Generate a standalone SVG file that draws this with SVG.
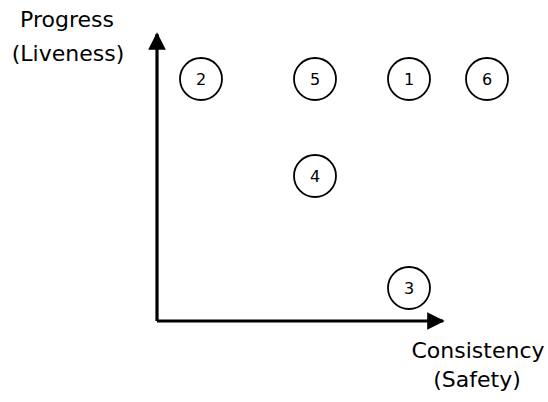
<svg xmlns="http://www.w3.org/2000/svg" width="548" height="402" viewBox="0 0 548 402">
<style>
.lbl{font-family:"DejaVu Sans","Noto Sans",sans-serif;font-size:22px;fill:#000;text-anchor:middle}
.num{font-family:"DejaVu Sans","Noto Sans",sans-serif;font-size:16px;fill:#000;text-anchor:middle;dominant-baseline:central}
.c{fill:#fff;stroke:#000;stroke-width:1.8}
.ax{stroke:#000;stroke-width:3.2;fill:none}
</style>
<defs>
<marker id="ah" viewBox="0 0 10 10" refX="9" refY="5" markerWidth="5.5" markerHeight="5.5" markerUnits="strokeWidth" orient="auto">
<path d="M0,0 L10,5 L0,10 z" fill="#000"/>
</marker>
</defs>
<rect width="548" height="402" fill="#fff"/>
<g id="connectors">
<path class="ax" d="M157,321 L157,34" marker-end="url(#ah)"/>
<path class="ax" d="M157,321 L443,321" marker-end="url(#ah)"/>
</g>
<g id="axis-labels">
<text class="lbl" x="67" y="27">Progress</text>
<text class="lbl" x="68" y="61">(Liveness)</text>
<text class="lbl" x="478" y="358">Consistency</text>
<text class="lbl" x="477" y="387">(Safety)</text>
</g>
<g id="n2"><circle class="c" cx="201" cy="79" r="21"/><text class="num" x="201" y="79">2</text></g>
<g id="n5"><circle class="c" cx="315" cy="79" r="21"/><text class="num" x="315" y="79">5</text></g>
<g id="n1"><circle class="c" cx="409" cy="79" r="21"/><text class="num" x="409" y="79">1</text></g>
<g id="n6"><circle class="c" cx="487" cy="79" r="21"/><text class="num" x="487" y="79">6</text></g>
<g id="n4"><circle class="c" cx="315" cy="176" r="21"/><text class="num" x="315" y="176">4</text></g>
<g id="n3"><circle class="c" cx="409" cy="288" r="21"/><text class="num" x="409" y="288">3</text></g>
</svg>
